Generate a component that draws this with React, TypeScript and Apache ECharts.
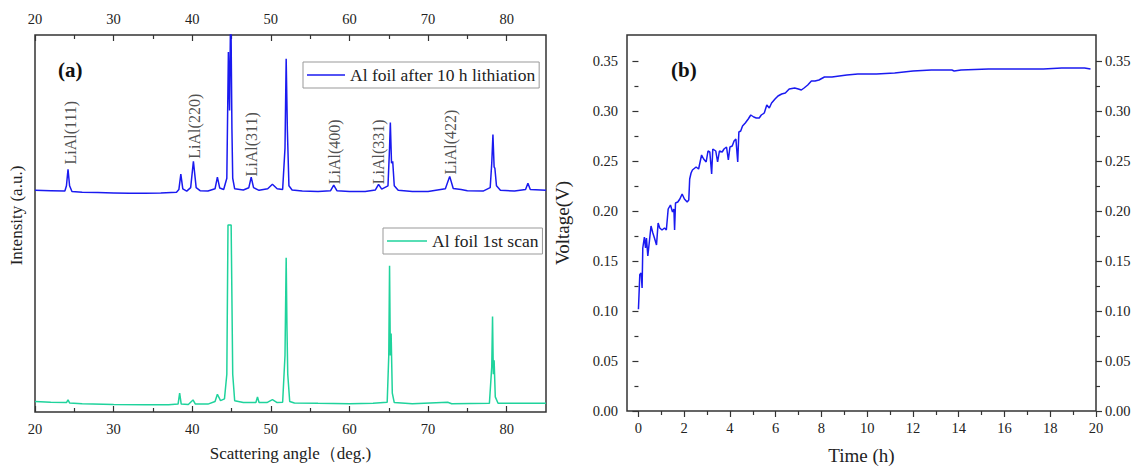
import React, { useEffect, useRef } from "react";
import * as echarts from "echarts";

// ---------- Panel (a): XRD ----------
const xrdLithiated: number[][] = [
  [20, 58.8], [22, 58.7], [23.8, 58.6], [24.0, 60], [24.2, 64.4], [24.4, 60], [24.7, 58.5],
  [26, 58.3], [28, 58.2], [30, 58.1], [32, 58.0], [34, 58.0], [36, 58.1], [38.0, 58.3],
  [38.3, 59], [38.55, 63.1], [38.8, 59.2], [39.3, 58.6], [39.8, 59.5], [40.15, 66.5],
  [40.5, 59.5], [41, 58.7], [42, 58.6], [42.9, 59.2], [43.2, 62.3], [43.5, 59.4], [44.0, 59.0],
  [44.4, 62], [44.6, 95.5], [44.75, 80], [44.9, 110], [45.05, 75], [45.15, 62], [45.4, 59.2],
  [46.5, 58.9], [47.2, 59.5], [47.5, 62.3], [47.8, 59.5], [48.5, 58.8], [49.6, 59.2],
  [50.2, 60.4], [50.8, 59.2], [51.5, 59], [51.8, 70], [51.95, 93.7], [52.1, 75], [52.3, 60],
  [52.7, 58.9], [54, 58.6], [56, 58.5], [57.6, 58.7], [58.0, 60.2], [58.4, 58.7], [60, 58.5],
  [62, 58.5], [63.3, 58.9], [63.7, 60.4], [64.1, 59.1], [64.9, 60], [65.1, 70], [65.2, 76.8],
  [65.35, 66], [65.5, 66.5], [65.7, 60], [66.2, 58.8], [68, 58.5], [70, 58.5], [72.2, 59.2],
  [72.75, 62.5], [73.2, 59.3], [74.2, 59.0], [75, 58.7], [77, 58.6], [77.9, 59.5], [78.1, 66],
  [78.25, 73.6], [78.4, 65], [78.5, 64.6], [78.7, 60], [79.2, 58.8], [81, 58.6], [82.4, 59.0],
  [82.7, 60.7], [83.0, 59.0], [85, 58.8],
];

const xrdFirstScan: number[][] = [
  [20, 2.8], [22, 2.6], [24.0, 2.5], [24.2, 3.2], [24.4, 2.4], [26, 2.2], [30, 2.0], [34, 1.9],
  [37, 1.9], [38.2, 2.1], [38.4, 5.0], [38.6, 2.1], [39.5, 2.0], [40.1, 3.2], [40.4, 2.1],
  [42, 2.1], [42.9, 2.8], [43.2, 4.7], [43.6, 3.0], [44.1, 3.5], [44.4, 10], [44.55, 49.6],
  [44.95, 49.6], [45.15, 10], [45.4, 3.0], [46.5, 2.5], [48.1, 2.5], [48.3, 4.0], [48.5, 2.5],
  [49.5, 2.5], [50.2, 3.3], [50.8, 2.5], [51.5, 2.6], [51.8, 15], [51.95, 40.9], [52.05, 22.4],
  [52.15, 10], [52.4, 2.8], [53, 2.4], [56, 2.3], [60, 2.2], [63, 2.3], [64.8, 2.6], [65.0, 15],
  [65.1, 38.8], [65.2, 15], [65.3, 20.8], [65.45, 5], [65.7, 2.5], [68, 2.2], [72.5, 2.6],
  [73, 2.2], [77.8, 2.3], [78.1, 12], [78.2, 25.3], [78.3, 10], [78.4, 13.7], [78.55, 4],
  [78.9, 2.3], [82, 2.3], [85, 2.3],
];

const peakLabels: string[] = ["LiAl(111)", "LiAl(220)", "LiAl(311)", "LiAl(400)", "LiAl(331)", "LiAl(422)"];
const peakLabelX: number[] = [24.5, 40.3, 47.5, 58.1, 63.7, 72.8];
const peakLabelY: number[] = [74.1, 75.8, 71.0, 69.0, 69.0, 71.6];

const angleMajorTicks: number[] = [20, 30, 40, 50, 60, 70, 80];
const angleMinorTicks: number[] = [25, 35, 45, 55, 65, 75];

// ---------- Panel (b): voltage ----------
const voltageCurve: number[][] = [
  [0, 0.1017], [0.06, 0.1364], [0.12, 0.138], [0.16, 0.123], [0.19, 0.163], [0.26, 0.174],
  [0.31, 0.163], [0.35, 0.173], [0.41, 0.155], [0.48, 0.17], [0.55, 0.185], [0.63, 0.178],
  [0.7, 0.173], [0.79, 0.166], [0.86, 0.188], [0.93, 0.183], [1.03, 0.181], [1.14, 0.183],
  [1.22, 0.181], [1.3, 0.202], [1.4, 0.206], [1.49, 0.199], [1.55, 0.202], [1.58, 0.181],
  [1.62, 0.208], [1.72, 0.209], [1.81, 0.212], [1.91, 0.217], [2.01, 0.212], [2.13, 0.209],
  [2.2, 0.211], [2.24, 0.232], [2.3, 0.238], [2.36, 0.241], [2.52, 0.244], [2.63, 0.242],
  [2.76, 0.256], [2.85, 0.252], [2.96, 0.249], [3.04, 0.26], [3.12, 0.259], [3.2, 0.237],
  [3.25, 0.262], [3.38, 0.26], [3.46, 0.249], [3.54, 0.26], [3.66, 0.259], [3.74, 0.262],
  [3.85, 0.264], [3.93, 0.251], [4.0, 0.264], [4.1, 0.265], [4.18, 0.27], [4.26, 0.272],
  [4.34, 0.249], [4.39, 0.279], [4.47, 0.28], [4.55, 0.285], [4.67, 0.288], [4.8, 0.292],
  [4.91, 0.296], [5.04, 0.294], [5.15, 0.293], [5.28, 0.293], [5.37, 0.296], [5.5, 0.298],
  [5.61, 0.306], [5.72, 0.303], [5.82, 0.308], [5.97, 0.312], [6.1, 0.315], [6.26, 0.317],
  [6.42, 0.318], [6.59, 0.322], [6.83, 0.323], [6.99, 0.322], [7.12, 0.321], [7.24, 0.323],
  [7.4, 0.326], [7.56, 0.33], [7.72, 0.33], [7.89, 0.331], [8.13, 0.334], [8.46, 0.334],
  [8.78, 0.335], [9.11, 0.336], [9.59, 0.337], [10.4, 0.337], [11.2, 0.338], [11.6, 0.339],
  [12.0, 0.34], [12.8, 0.341], [13.7, 0.341], [13.8, 0.34], [14.1, 0.341], [15.3, 0.342],
  [16.1, 0.342], [16.9, 0.342], [17.7, 0.342], [18.5, 0.343], [19.2, 0.343], [19.5, 0.343],
  [19.76, 0.342],
];

const timeMajorTicks: number[] = [0, 2, 4, 6, 8, 10, 12, 14, 16, 18, 20];
const timeMinorTicks: number[] = [1, 3, 5, 7, 9, 11, 13, 15, 17, 19];
const voltMajorTicks: number[] = [0, 0.05, 0.1, 0.15, 0.2, 0.25, 0.3, 0.35];
const voltMinorTicks: number[] = [0.025, 0.075, 0.125, 0.175, 0.225, 0.275, 0.325];

const SERIF = "'Liberation Serif', 'Times New Roman', serif";
const AXIS_COLOR = "#333";
const BLUE = "#1a1af0";
const GREEN = "#1fd39c";

export default function App() {
  const ref = useRef<HTMLDivElement>(null);

  useEffect(() => {
    if (!ref.current) return;
    const chart = echarts.init(ref.current, undefined, { renderer: "svg" });

    const tickStyle = { color: AXIS_COLOR, width: 1.2 };
    const labelStyle = { fontFamily: SERIF, fontSize: 14.5, color: "#222" };

    const xMajor = (grid: number, pos: string, min: number, max: number, ticks: number[], inside: boolean, extra: any = {}) => ({
      type: "value", gridIndex: grid, position: pos, min, max,
      axisLine: { show: false }, splitLine: { show: false },
      axisTick: { show: true, inside, length: 6, customValues: ticks, lineStyle: tickStyle },
      axisLabel: { show: true, customValues: ticks, margin: 9, ...labelStyle },
      ...extra,
    });
    const xMinor = (grid: number, pos: string, min: number, max: number, ticks: number[], inside: boolean) => ({
      type: "value", gridIndex: grid, position: pos, min, max,
      axisLine: { show: false }, splitLine: { show: false },
      axisTick: { show: true, inside, length: 4, customValues: ticks, lineStyle: tickStyle },
      axisLabel: { show: false },
    });
    const yAxisV = (pos: string, ticks: number[], len: number, labels: boolean, extra: any = {}) => ({
      type: "value", gridIndex: 1, position: pos, min: 0, max: 0.376,
      axisLine: { show: false }, splitLine: { show: false },
      axisTick: { show: true, inside: false, length: len, customValues: ticks, lineStyle: tickStyle },
      axisLabel: labels
        ? { show: true, customValues: ticks, margin: 9, formatter: (v: number) => v.toFixed(2), ...labelStyle }
        : { show: false },
      ...extra,
    });

    const option: any = {
      animation: false,
      backgroundColor: "#fff",
      textStyle: { fontFamily: SERIF },
      grid: [
        { left: 35, top: 35, width: 511, height: 377, show: true, borderColor: AXIS_COLOR, borderWidth: 1.5, backgroundColor: "transparent" },
        { left: 627, top: 35, width: 469, height: 378, show: true, borderColor: AXIS_COLOR, borderWidth: 1.5, backgroundColor: "transparent" },
      ],
      xAxis: [
        xMajor(0, "bottom", 20, 85, angleMajorTicks, true, {
          name: "Scattering angle（deg.)", nameLocation: "middle", nameGap: 33,
          nameTextStyle: { fontFamily: SERIF, fontSize: 17, color: "#222" },
        }),
        xMinor(0, "bottom", 20, 85, angleMinorTicks, true),
        xMajor(0, "top", 20, 85, angleMajorTicks, true),
        xMinor(0, "top", 20, 85, angleMinorTicks, true),
        xMajor(1, "bottom", -0.5, 20, timeMajorTicks, false, {
          name: "Time (h)", nameLocation: "middle", nameGap: 35,
          nameTextStyle: { fontFamily: SERIF, fontSize: 19, color: "#222" },
        }),
        xMinor(1, "bottom", -0.5, 20, timeMinorTicks, false),
      ],
      yAxis: [
        {
          type: "value", gridIndex: 0, min: 0, max: 100,
          axisLine: { show: false }, axisTick: { show: false }, axisLabel: { show: false }, splitLine: { show: false },
          name: "Intensity (a.u.)", nameLocation: "middle", nameGap: 10,
          nameTextStyle: { fontFamily: SERIF, fontSize: 17, color: "#222", padding: [0, 0, 0, 16] },
        },
        yAxisV("left", voltMajorTicks, 6, true, {
          name: "Voltage(V)", nameLocation: "middle", nameGap: 55,
          nameTextStyle: { fontFamily: SERIF, fontSize: 19, color: "#222" },
        }),
        yAxisV("left", voltMinorTicks, 4, false),
        yAxisV("right", voltMajorTicks, 6, true),
        yAxisV("right", voltMinorTicks, 4, false),
      ],
      legend: [
        {
          data: ["Al foil after 10 h lithiation"], left: 303, top: 62,
          orient: "vertical", icon: "rect", itemWidth: 38, itemHeight: 1.6,
          padding: [4, 4, 4, 4], borderColor: "#999", borderWidth: 1,
          textStyle: { fontFamily: SERIF, fontSize: 17.5, color: "#222" },
        },
        {
          data: ["Al foil 1st scan"], left: 383, top: 228,
          orient: "vertical", icon: "rect", itemWidth: 40, itemHeight: 1.6,
          padding: [4, 4, 4, 4], borderColor: "#999", borderWidth: 1,
          textStyle: { fontFamily: SERIF, fontSize: 17.5, color: "#222" },
        },
      ],
      series: [
        {
          name: "Al foil after 10 h lithiation", type: "line", xAxisIndex: 0, yAxisIndex: 0,
          data: xrdLithiated, showSymbol: false, symbol: "none", clip: true,
          lineStyle: { color: BLUE, width: 1.5 }, itemStyle: { color: BLUE },
        },
        {
          name: "Al foil 1st scan", type: "line", xAxisIndex: 0, yAxisIndex: 0,
          data: xrdFirstScan, showSymbol: false, symbol: "none", clip: true,
          lineStyle: { color: GREEN, width: 1.5 }, itemStyle: { color: GREEN },
        },
        {
          name: "peaks", type: "scatter", xAxisIndex: 0, yAxisIndex: 0, symbolSize: 0,
          data: peakLabels.map((n, i) => ({ name: n, value: [peakLabelX[i], peakLabelY[i]] })),
          label: {
            show: true, formatter: (p: any) => p.name, rotate: 90, position: "inside",
            align: "center", verticalAlign: "middle",
            fontFamily: SERIF, fontSize: 16, color: "#222",
          },
          silent: true,
        },
        {
          name: "Voltage", type: "line", xAxisIndex: 4, yAxisIndex: 1,
          data: voltageCurve, showSymbol: false, symbol: "none",
          lineStyle: { color: BLUE, width: 1.5 },
        },
      ],
      graphic: [
        { type: "text", left: 58, top: 59, style: { text: "(a)", font: `bold 21px ${SERIF}`, fill: "#111" } },
        { type: "text", left: 671, top: 59, style: { text: "(b)", font: `bold 21px ${SERIF}`, fill: "#111" } },
      ],
    };

    chart.setOption(option);
    return () => chart.dispose();
  }, []);

  return (
    <div
      ref={ref}
      style={{ position: "fixed", left: 0, top: 0, width: 1143, height: 470, background: "#fff" }}
    />
  );
}
